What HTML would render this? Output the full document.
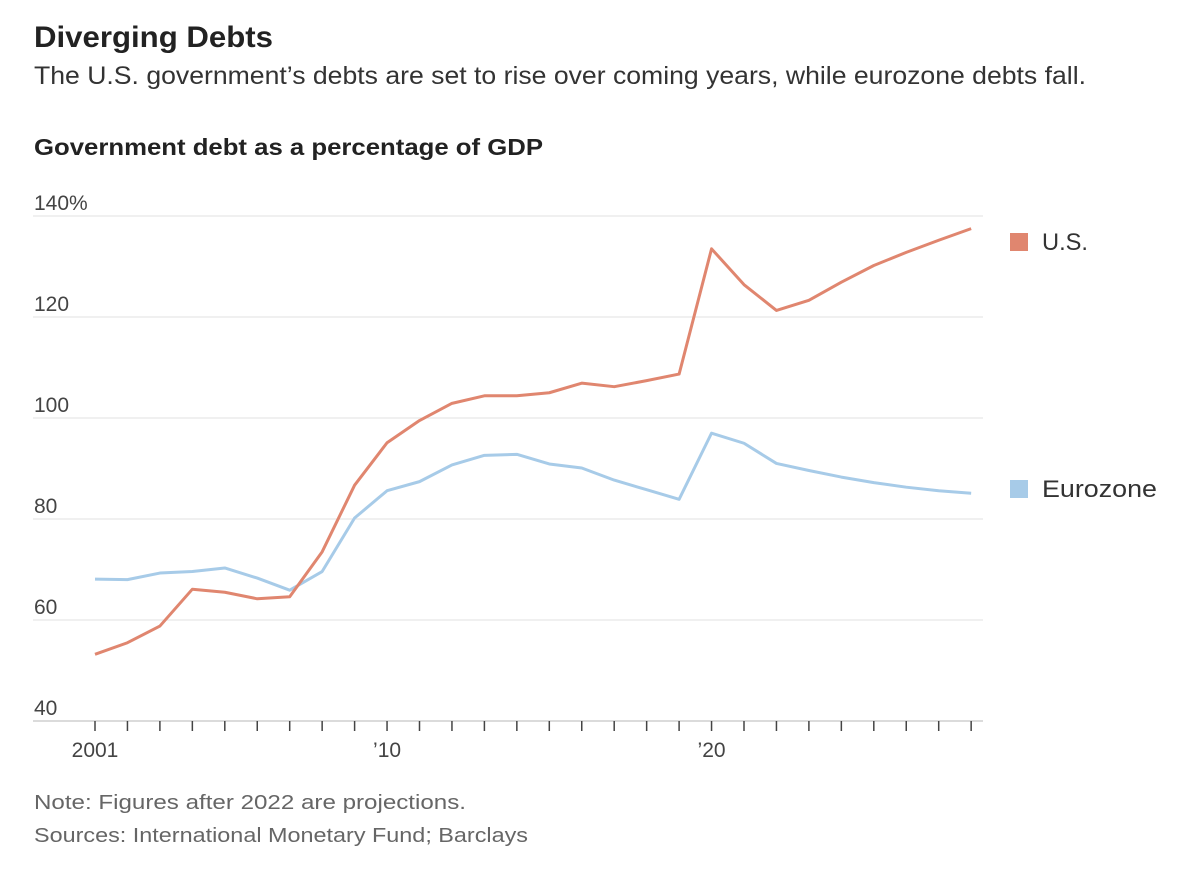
<!DOCTYPE html>
<html><head><meta charset="utf-8"><style>
body{margin:0;width:1200px;height:869px;background:#fff;font-family:"Liberation Sans",sans-serif;overflow:hidden}
</style></head><body>
<svg width="1200" height="869" style="position:absolute;left:0;top:0">
<text x="34" y="47" font-size="30" font-weight="bold" fill="#222" textLength="239" lengthAdjust="spacingAndGlyphs">Diverging Debts</text>
<text x="34" y="84" font-size="25" fill="#333" textLength="1052" lengthAdjust="spacingAndGlyphs">The U.S. government’s debts are set to rise over coming years, while eurozone debts fall.</text>
<text x="34" y="155" font-size="23" font-weight="bold" fill="#222" textLength="509" lengthAdjust="spacingAndGlyphs">Government debt as a percentage of GDP</text>
<g id="grid"></g><g id="xaxis"></g><g id="lines"></g>
<rect x="1010" y="233" width="18" height="18" fill="#e0866f"/>
<text x="1042" y="250" font-size="24" fill="#333" textLength="46" lengthAdjust="spacingAndGlyphs">U.S.</text>
<rect x="1010" y="480" width="18" height="18" fill="#a7cbe8"/>
<text x="1042" y="497" font-size="24" fill="#333" textLength="115" lengthAdjust="spacingAndGlyphs">Eurozone</text>
<text x="34" y="809" font-size="20" fill="#666" textLength="432" lengthAdjust="spacingAndGlyphs">Note: Figures after 2022 are projections.</text>
<text x="34" y="842" font-size="20" fill="#666" textLength="494" lengthAdjust="spacingAndGlyphs">Sources: International Monetary Fund; Barclays</text>
</svg>
<script>
const years=[2001,2002,2003,2004,2005,2006,2007,2008,2009,2010,2011,2012,2013,2014,2015,2016,2017,2018,2019,2020,2021,2022,2023,2024,2025,2026,2027,2028];
const usDebt=[53.2,55.5,58.8,66.1,65.5,64.2,64.6,73.5,86.7,95.1,99.5,102.9,104.4,104.4,105.0,106.9,106.2,107.4,108.7,133.5,126.4,121.3,123.3,126.9,130.2,132.8,135.2,137.5];
const euroDebt=[68.1,68.0,69.3,69.6,70.3,68.3,65.9,69.6,80.2,85.6,87.4,90.7,92.6,92.8,90.9,90.1,87.7,85.8,83.9,97.0,95.0,91.0,89.6,88.3,87.2,86.3,85.6,85.1];
const yTicks=[40,60,80,100,120,140];
const yTickLabels=["40","60","80","100","120","140%"];
const xLabelYears=[2001,2010,2020];
const xLabels=["2001","’10","’20"];
const NS="http://www.w3.org/2000/svg";
const x=v=>95+(v-2001)*32.45;
const y=v=>721-(v-40)*5.05;
function mk(tag,attrs,parent){const e=document.createElementNS(NS,tag);for(const k in attrs)e.setAttribute(k,attrs[k]);document.getElementById(parent).appendChild(e);return e;}
yTicks.forEach((t,i)=>{
  const l=mk('line',{x1:33,x2:983,y1:y(t),y2:y(t),stroke:i==0?'#cfcfcf':'#e2e2e2','stroke-width':i==0?1.5:1},'grid');
  
  
  const tx=mk('text',{x:34,y:y(t)-6,'font-size':21,fill:'#444'},'grid');
  tx.textContent=yTickLabels[i];
  
  
});
years.forEach(yr=>{
  const l=mk('line',{x1:x(yr),x2:x(yr),y1:721,y2:731,stroke:'#444','stroke-width':1.5},'xaxis');
  
  
});
xLabelYears.forEach((yr,i)=>{
  const t=mk('text',{x:x(yr),y:757,'font-size':21,fill:'#444','text-anchor':'middle'},'xaxis');
  t.textContent=xLabels[i];
  
  
});
function line(data,color,name){
  const p=mk('polyline',{points:data.map((v,i)=>x(years[i])+','+y(v)).join(' '),fill:'none',stroke:color,'stroke-width':3,'stroke-linejoin':'round'},'lines');
  
  
}
line(euroDebt,'#a7cbe8','eurozone-line');
line(usDebt,'#e0866f','us-line');
</script>
</body></html>
